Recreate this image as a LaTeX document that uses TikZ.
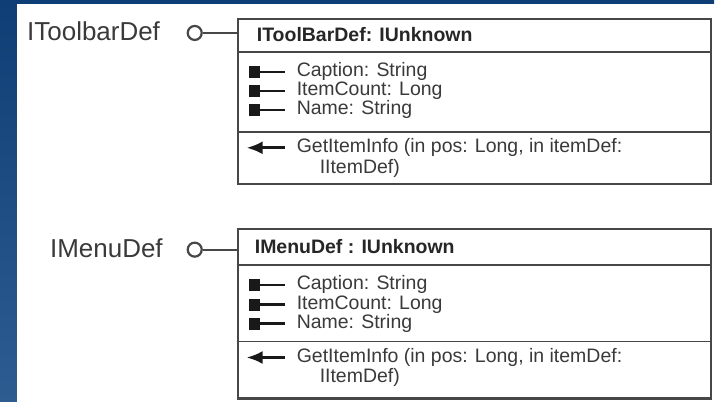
\documentclass[tikz,border=0pt]{standalone}
\usepackage{fontspec}
\setmainfont{Liberation Sans}
\usetikzlibrary{positioning,arrows.meta}

\definecolor{slideblue}{HTML}{0F3E76}
\definecolor{slidebluelow}{HTML}{2D5C91}
\definecolor{umlline}{HTML}{474747}
\definecolor{umltext}{HTML}{3A3A3A}

\tikzset{
  classbox/.style={draw=umlline, line width=2.4pt, fill=white, inner sep=0pt},
  divider/.style={draw=umlline, line width=1.8pt},
  ifname/.style={font=\fontsize{26}{28}\selectfont, text=umltext, anchor=west, inner sep=0pt},
  lolly/.style={circle, draw=umlline, line width=2.2pt, minimum size=14pt, inner sep=0pt},
  member/.style={font=\fontsize{19.5}{20}\selectfont, text=umltext, anchor=west, inner sep=0pt},
  heading/.style={member, font=\bfseries\fontsize{19.5}{20}\selectfont, text=black!85},
  attr/.style={{Square[length=11pt,width=12pt]}-, line width=2.2pt, black!90},
  meth/.style={-{Latex[length=16pt,width=13pt]}, line width=2.6pt, black!90},
}

\begin{document}
\begin{tikzpicture}[x=1pt, y=-1pt]
	% background
	\fill[top color=slideblue, bottom color=slidebluelow] (0,0) rectangle (715,402);
	\fill[white] (17,4) rectangle (716,404);
	\useasboundingbox (0,0) rectangle (715,402);

	%% IToolbarDef
	\node[ifname] (tname) at (27,31) {IToolbarDef};
	\node[lolly] (tlol) at (195,33) {};
	\node[classbox, minimum width=474pt, minimum height=165pt, anchor=north west] (tbox) at (237,18) {};
	\draw[umlline, line width=2pt] (tlol) -- (tlol -| tbox.west);
	\draw[divider] ([yshift=-34pt]tbox.north west) -- ([yshift=-34pt]tbox.north east);
	\draw[divider] ([yshift=-114pt]tbox.north west) -- ([yshift=-114pt]tbox.north east);
	\node[heading] (thead) at (257,35) {IToolBarDef: IUnknown};
	\node[member] (ta1) at (297,72) {Caption: String};
	\node[member] (ta2) at (297,91) {ItemCount: Long};
	\node[member] (ta3) at (297,110) {Name: String};
	\node[member] (tm1) at (297,148) {GetItemInfo (in pos: Long, in itemDef:};
	\node[member] (tm2) at (320,169) {IItemDef)};
	% attribute pins and the method arrow
	\foreach \a in {ta1,ta2,ta3}
		\draw[attr] ([xshift=-48pt]\a.west) -- ([xshift=-12pt]\a.west);
	\draw[meth] ([xshift=-12pt]tm1.west) -- ([xshift=-50pt]tm1.west);

	%% IMenuDef
	\node[ifname] (mname) at (50,249) {IMenuDef};
	\node[lolly] (mlol) at (195,250) {};
	\node[classbox, minimum width=474pt, minimum height=170pt, anchor=north west] (mbox) at (237,228) {};
	\draw[umlline, line width=2pt] (mlol) -- (mlol -| mbox.west);
	\draw[divider] ([yshift=-37pt]mbox.north west) -- ([yshift=-37pt]mbox.north east);
	\draw[divider] ([yshift=-114pt]mbox.north west) -- ([yshift=-114pt]mbox.north east);
	\node[heading] (mhead) at (255,247) {IMenuDef : IUnknown};
	\node[member] (ma1) at (297,285) {Caption: String};
	\node[member] (ma2) at (297,305) {ItemCount: Long};
	\node[member] (ma3) at (297,324) {Name: String};
	\node[member] (mm1) at (297,358) {GetItemInfo (in pos: Long, in itemDef:};
	\node[member] (mm2) at (320,378) {IItemDef)};
	\foreach \a in {ma1,ma2,ma3}
		\draw[attr] ([xshift=-48pt]\a.west) -- ([xshift=-12pt]\a.west);
	\draw[meth] ([xshift=-12pt]mm1.west) -- ([xshift=-50pt]mm1.west);
\end{tikzpicture}
\end{document}
